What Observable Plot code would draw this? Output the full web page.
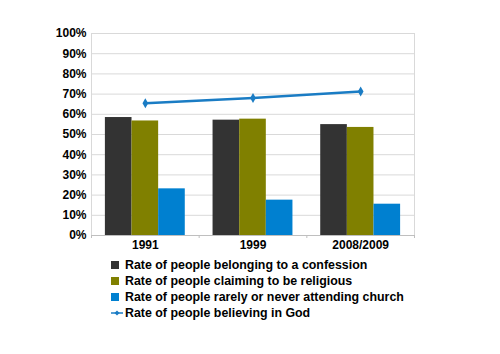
<!DOCTYPE html>
<html>
<head>
<meta charset="utf-8">
<script src="https://cdn.jsdelivr.net/npm/d3@7"></script>
<script src="https://cdn.jsdelivr.net/npm/@observablehq/plot@0.6"></script>
<style>
  html, body { margin: 0; padding: 0; background: #fff; }
  body { width: 500px; height: 354px; overflow: hidden; font-family: "Liberation Sans", Arial, sans-serif; }
  #legend { margin-left: 111px; margin-top: 2px; font-weight: bold; font-size: 12.4px; color: #000; }
  #legend .item { height: 16px; line-height: 16px; display: flex; align-items: center; white-space: nowrap; }
  #legend .sw { display: inline-block; width: 8px; height: 8px; margin-right: 6px; }
  #legend svg { margin-right: 2px; }
</style>
</head>
<body>
<div id="chart"></div>
<div id="legend"></div>
<script>
const categories = ["1991", "1999", "2008/2009"];
const seriesNames = [
  "Rate of people belonging to a confession",
  "Rate of people claiming to be religious",
  "Rate of people rarely or never attending church",
  "Rate of people believing in God"
];
const seriesColors = ["#333333", "#808000", "#0080d0", "#1a7cc4"];
const confession = [58.4, 57.1, 54.9];
const religious = [56.7, 57.6, 53.5];
const rarelyChurch = [23.1, 17.5, 15.5];
const believeGod = [65.5, 68.1, 71.3];
const yTicks = [0, 10, 20, 30, 40, 50, 60, 70, 80, 90, 100];

const barSeries = [confession, religious, rarelyChurch];
const groupWidth = 0.742;
const bw = groupWidth / barSeries.length;
const bars = categories.flatMap((c, i) => barSeries.map((arr, k) => ({
  cat: c, i, k, series: seriesNames[k], value: arr[i] / 100,
  x1: i - groupWidth / 2 + k * bw, x2: i - groupWidth / 2 + (k + 1) * bw
})));
const lineData = categories.map((c, i) => ({cat: c, i, value: believeGod[i] / 100}));

const chart = Plot.plot({
  width: 500,
  height: 255,
  marginTop: 33,
  marginBottom: 20,
  marginLeft: 91,
  marginRight: 86,
  style: {fontFamily: "Liberation Sans, Arial, sans-serif", fontSize: "12px", fontWeight: "bold", color: "#000", background: "#fff"},
  x: {type: "linear", domain: [-0.5, 2.5]},
  y: {domain: [0, 1]},
  color: {domain: seriesNames, range: seriesColors},
  marks: [
    Plot.gridY(yTicks.map(d => d / 100), {stroke: "#d9d9d9", strokeOpacity: 1}),
    Plot.ruleX([-0.5, 2.5], {stroke: "#d9d9d9"}),
    Plot.ruleY([0], {stroke: "#bfbfbf"}),
    Plot.rect(bars, {x1: "x1", x2: "x2", y1: 0, y2: "value", fill: "series"}),
    Plot.line(lineData, {x: "i", y: "value", stroke: seriesColors[3], strokeWidth: 2.5}),
    Plot.dot(lineData, {x: "i", y: "value", symbol: "diamond", r: 3, fill: seriesColors[3], stroke: "none"}),
    Plot.axisY({ticks: yTicks.map(d => d / 100), tickFormat: d3.format(".0%"), tickSize: 0, tickPadding: 5, label: null}),
    Plot.axisX({ticks: [-0.5, 0.5, 1.5, 2.5], tickFormat: () => "", tickSize: 3, stroke: "#bfbfbf", label: null}),
    Plot.axisX({ticks: [0, 1, 2], tickFormat: i => categories[i], tickSize: 0, tickPadding: 5, label: null})
  ]
});
document.getElementById("chart").appendChild(chart);

const legend = document.getElementById("legend");
seriesNames.forEach((name, k) => {
  const item = document.createElement("div");
  item.className = "item";
  if (k < 3) {
    const sw = document.createElement("span");
    sw.className = "sw";
    sw.style.background = seriesColors[k];
    item.appendChild(sw);
  } else {
    const ns = "http://www.w3.org/2000/svg";
    const s = document.createElementNS(ns, "svg");
    s.setAttribute("width", "12"); s.setAttribute("height", "8");
    const l = document.createElementNS(ns, "line");
    l.setAttribute("x1", "0"); l.setAttribute("x2", "12"); l.setAttribute("y1", "4"); l.setAttribute("y2", "4");
    l.setAttribute("stroke", seriesColors[3]); l.setAttribute("stroke-width", "1.5");
    const p = document.createElementNS(ns, "path");
    p.setAttribute("d", "M6,1.5L8.5,4L6,6.5L3.5,4Z"); p.setAttribute("fill", seriesColors[3]);
    s.appendChild(l); s.appendChild(p);
    item.appendChild(s);
  }
  const t = document.createElement("span");
  t.textContent = name;
  item.appendChild(t);
  legend.appendChild(item);
});
</script>
</body>
</html>
